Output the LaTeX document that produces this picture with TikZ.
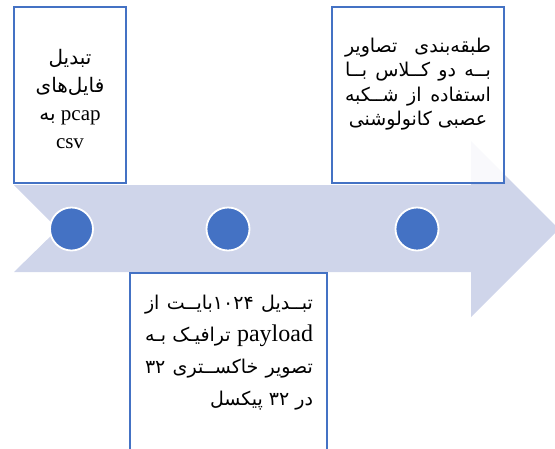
\documentclass[tikz,border=0pt]{standalone}
\usepackage{fontspec}
\setmainfont{Liberation Serif}
\newfontfamily\arabicfont[Script=Arabic]{DejaVu Sans}
\TeXXeTstate=1
\def\arsz{20}\def\arbs{28}
\newcommand\ar{\fontsize{\arsz}{\arbs}\arabicfont}
\newcommand\gp{\hskip 4pt plus 1fill\relax}
\definecolor{boxblue}{HTML}{4472C4}
\definecolor{bandcol}{HTML}{CFD5EA}
\tikzset{
  box/.style={draw=boxblue, line width=2pt, fill=white, fill opacity=0.88, text opacity=1, inner sep=0pt, outer sep=0pt},
  dot/.style={circle, fill=boxblue, draw=white, line width=1.8pt, minimum size=43pt, inner sep=0pt},
  txt/.style={inner sep=0pt, text=black, align=center},
}
\begin{document}
\begin{tikzpicture}[x=1pt,y=-1pt]
\useasboundingbox (0,0) rectangle (555,448);
\clip (0,0) rectangle (555,448);
% band arrow
\fill[bandcol] (14,185) -- (471,185) -- (471,141) -- (559,229) -- (471,317) -- (471,272) -- (14,272) -- (58,229) -- cycle;
% boxes
\node[box, anchor=north west, minimum width=112pt, minimum height=176pt] (b1) at (14,7) {};
\node[box, anchor=north west, minimum width=172pt, minimum height=176pt] (b2) at (332,7) {};
\node[box, anchor=north west, minimum width=197pt, minimum height=200pt] (b3) at (130,273) {};
% dots
\node[dot] (c1) at (71.5,229) {};
\node[dot] (c2) at (228,229) {};
\node[dot] (c3) at (417,229) {};
% texts
\node[txt, font={\fontsize{21}{28}\selectfont\def\arsz{20}\def\arbs{28}}] (t1) at (70,99)
  {{\ar تبدیل}\\ {\ar فایل‌های}\\ \beginR pcap {\ar به}\endR\\ csv};
\node[txt, font={\fontsize{19}{24.5}\selectfont\def\arsz{19}\def\arbs{24.5}}] (t2) at (418,84)
  {\hbox to 146pt{\beginR\ar طبقه‌بندی\gp تصاویر\endR}\\
   \hbox to 146pt{\beginR\ar بــه\gp دو\gp کــلاس\gp بــا\endR}\\
   \hbox to 146pt{\beginR\ar استفاده\gp از\gp شــکبه\endR}\\
   {\ar\beginR عصبی کانولوشنی\endR}};
\node[txt, font={\fontsize{24}{32}\selectfont\def\arsz{19}\def\arbs{32}}] (t3) at (229,353)
  {\hbox to 168pt{\beginR\ar تبــدیل\gp ۱۰۲۴بایــت\gp از\endR}\\
   \hbox to 168pt{\beginR payload\gp{\ar ترافیـک\gp بـه}\endR}\\
   \hbox to 168pt{\beginR\ar تصویر\gp خاکســتری\gp ۳۲\endR}\\
   \hbox to 168pt{\hfill\beginR\ar در ۳۲ پیکسل\endR}};
\end{tikzpicture}
\end{document}
